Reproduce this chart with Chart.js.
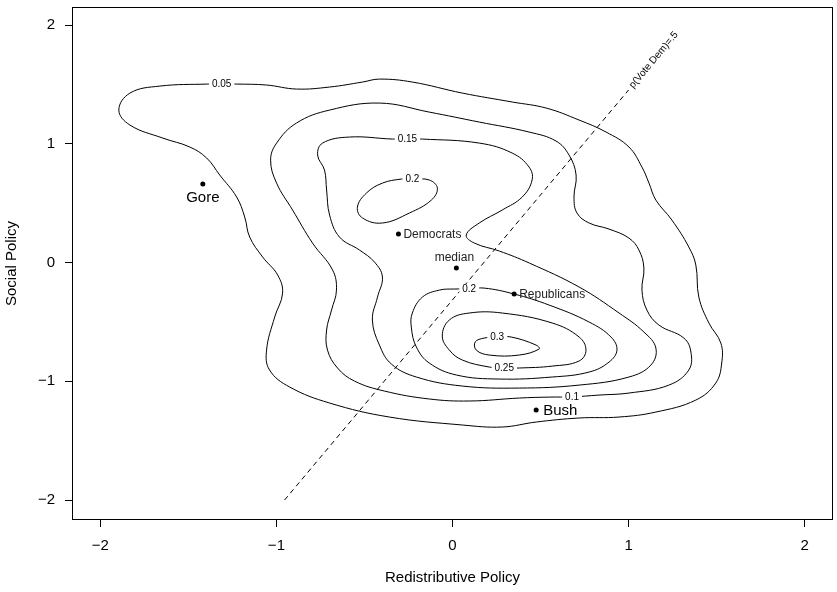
<!DOCTYPE html>
<html>
<head>
<meta charset="utf-8">
<script src="https://cdn.jsdelivr.net/npm/chart.js@4.4.1/dist/chart.umd.min.js"></script>
<style>
  html, body { margin: 0; padding: 0; background: #fff; }
</style>
</head>
<body>
<canvas id="chart" width="837" height="592"></canvas>
<script>
// tick values on both axes
const xTicks = [-2, -1, 0, 1, 2];
const yTicks = [-2, -1, 0, 1, 2];

// labelled positions
const pointNames = ['Gore', 'Democrats', 'median', 'Republicans', 'Bush'];
const pointX = [-1.418, -0.307, 0.022, 0.350, 0.475];
const pointY = [0.661, 0.240, -0.046, -0.265, -1.242];

// p(Vote Dem) = .5 line, end points
const voteLineX = [-0.954, 1.0];
const voteLineY = [-2.0, 1.453];

// density contours, first point is where the level label sits
const contourLevels = ['0.05', '0.1', '0.15', '0.2', '0.2', '0.25', '0.3'];

const contour005 = [
  [-1.311, 1.503], [-1.226, 1.503], [-1.056, 1.495], [-0.886, 1.461], [-0.698, 1.478],
  [-0.511, 1.520], [-0.415, 1.545], [-0.228, 1.520], [0.056, 1.427], [0.339, 1.352],
  [0.532, 1.301], [0.719, 1.200], [0.872, 1.099], [1.002, 0.973], [1.076, 0.804],
  [1.116, 0.669], [1.155, 0.526], [1.246, 0.358], [1.342, 0.131], [1.382, -0.021],
  [1.399, -0.291], [1.456, -0.509], [1.524, -0.678], [1.529, -0.846], [1.495, -1.015],
  [1.382, -1.158], [1.155, -1.259], [0.946, -1.301], [0.719, -1.309], [0.475, -1.343],
  [0.282, -1.385], [0.056, -1.368], [-0.358, -1.301], [-0.698, -1.183], [-0.925, -1.048],
  [-1.039, -0.905], [-1.056, -0.737], [-1.010, -0.459], [-0.965, -0.257], [-0.993, -0.105],
  [-1.078, 0.046], [-1.152, 0.215], [-1.180, 0.383], [-1.226, 0.552], [-1.322, 0.737],
  [-1.396, 0.880], [-1.492, 0.973], [-1.645, 1.048], [-1.832, 1.158], [-1.895, 1.284],
  [-1.832, 1.427], [-1.662, 1.486], [-1.390, 1.503], [-1.311, 1.503]
];

const contour010 = [
  [0.679, -1.133], [0.832, -1.116], [1.002, -1.099], [1.229, -1.032], [1.342, -0.905],
  [1.354, -0.754], [1.314, -0.636], [1.172, -0.526], [1.104, -0.400], [1.076, -0.232],
  [1.087, -0.046], [1.059, 0.105], [1.002, 0.206], [0.889, 0.282], [0.776, 0.333],
  [0.707, 0.417], [0.690, 0.552], [0.702, 0.737], [0.662, 0.905], [0.588, 1.023],
  [0.435, 1.099], [0.152, 1.183], [-0.132, 1.267], [-0.415, 1.343], [-0.698, 1.284],
  [-0.886, 1.175], [-0.999, 1.006], [-1.033, 0.863], [-0.999, 0.669], [-0.908, 0.442],
  [-0.795, 0.164], [-0.681, -0.063], [-0.659, -0.232], [-0.687, -0.400], [-0.715, -0.568],
  [-0.710, -0.737], [-0.653, -0.888], [-0.557, -0.998], [-0.387, -1.082], [-0.132, -1.149],
  [0.095, -1.166], [0.379, -1.141], [0.549, -1.133], [0.679, -1.133]
];

const contour015 = [
  [-0.256, 1.040], [-0.171, 1.040], [0.152, 1.006], [0.339, 0.922], [0.435, 0.804],
  [0.452, 0.695], [0.396, 0.552], [0.282, 0.442], [0.152, 0.333], [0.078, 0.232],
  [0.124, 0.164], [0.266, 0.097], [0.436, -0.004], [0.719, -0.206], [0.946, -0.425],
  [1.087, -0.585], [1.155, -0.720], [1.127, -0.863], [1.002, -0.964], [0.719, -1.032],
  [0.379, -1.057], [0.056, -1.040], [-0.205, -0.964], [-0.347, -0.855], [-0.415, -0.695],
  [-0.455, -0.484], [-0.426, -0.291], [-0.398, -0.122], [-0.443, 0.004], [-0.528, 0.105],
  [-0.642, 0.215], [-0.698, 0.400], [-0.715, 0.611], [-0.727, 0.779], [-0.766, 0.905],
  [-0.738, 1.006], [-0.585, 1.057], [-0.341, 1.040], [-0.256, 1.040]
];

const contour020a = [
  [-0.228, 0.703], [-0.132, 0.695], [-0.086, 0.627], [-0.120, 0.526], [-0.245, 0.417],
  [-0.398, 0.333], [-0.511, 0.375], [-0.540, 0.467], [-0.489, 0.585], [-0.398, 0.669],
  [-0.290, 0.703], [-0.228, 0.703]
];

const contour020b = [
  [0.095, -0.223], [0.180, -0.215], [0.350, -0.265], [0.549, -0.358], [0.776, -0.501],
  [0.900, -0.627], [0.934, -0.737], [0.889, -0.838], [0.776, -0.922], [0.566, -0.964],
  [0.265, -0.981], [0.022, -0.947], [-0.132, -0.846], [-0.205, -0.712], [-0.234, -0.543],
  [-0.228, -0.425], [-0.171, -0.291], [-0.075, -0.232], [0.010, -0.223], [0.095, -0.223]
];

const contour025 = [
  [0.294, -0.888], [0.379, -0.888], [0.566, -0.872], [0.719, -0.829], [0.758, -0.737],
  [0.719, -0.627], [0.566, -0.509], [0.282, -0.425], [0.095, -0.425], [-0.018, -0.484],
  [-0.058, -0.619], [-0.018, -0.737], [0.056, -0.821], [0.209, -0.880], [0.294, -0.888]
];

const contour030 = [
  [0.254, -0.627], [0.333, -0.627], [0.475, -0.695], [0.492, -0.728], [0.379, -0.779],
  [0.209, -0.779], [0.135, -0.737], [0.129, -0.669], [0.180, -0.636], [0.254, -0.627]
];

const contours = [contour005, contour010, contour015, contour020a, contour020b, contour025, contour030];

const FONT = '"Liberation Sans", Arial, sans-serif';

const contourSets = contours.map((c, i) => ({
  label: 'level ' + contourLevels[i],
  data: c.map(p => ({ x: p[0], y: p[1] })),
  showLine: true,
  pointRadius: 0,
  borderColor: '#000',
  borderWidth: 1,
  tension: 0.4,
  fill: false
}));

const voteSet = {
  label: 'p(Vote Dem)=.5',
  data: voteLineX.map((v, i) => ({ x: v, y: voteLineY[i] })),
  showLine: true,
  pointRadius: 0,
  borderColor: '#000',
  borderWidth: 1,
  borderDash: [5, 4]
};

const pointSet = {
  label: 'points',
  data: pointX.map((v, i) => ({ x: v, y: pointY[i] })),
  showLine: false,
  pointRadius: 2.5,
  backgroundColor: '#000',
  borderWidth: 0
};

// text that R puts on the plot: contour levels, point names, line label, box
const annotations = {
  id: 'annotations',
  afterDatasetsDraw(chart) {
    const { ctx, chartArea: a, scales: { x, y } } = chart;
    ctx.save();

    ctx.strokeStyle = '#000';
    ctx.lineWidth = 1;
    ctx.strokeRect(Math.round(a.left) + 0.5, Math.round(a.top) + 0.5,
      Math.round(a.right - a.left) - 1, Math.round(a.bottom - a.top) - 1);

    // contour labels over a white gap
    ctx.font = '10px ' + FONT;
    ctx.textAlign = 'center';
    ctx.textBaseline = 'middle';
    contours.forEach((c, i) => {
      const px = x.getPixelForValue(c[0][0]);
      const py = y.getPixelForValue(c[0][1]);
      const w = ctx.measureText(contourLevels[i]).width;
      ctx.fillStyle = '#fff';
      ctx.fillRect(px - w / 2 - 3, py - 5, w + 6, 10);
      ctx.fillStyle = '#000';
      ctx.fillText(contourLevels[i], px, py + 0.5);
    });

    // point names
    pointNames.forEach((name, i) => {
      const px = x.getPixelForValue(pointX[i]);
      const py = y.getPixelForValue(pointY[i]);
      ctx.fillStyle = '#000';
      if (name === 'Gore') {
        ctx.font = '15px ' + FONT;
        ctx.textAlign = 'center';
        ctx.fillText(name, px, py + 14);
      } else if (name === 'median') {
        ctx.font = '12px ' + FONT;
        ctx.textAlign = 'center';
        ctx.fillStyle = '#222';
        ctx.fillText(name, px - 2, py - 10);
      } else if (name === 'Bush') {
        ctx.font = '15px ' + FONT;
        ctx.textAlign = 'left';
        ctx.fillText(name, px + 7, py + 1);
      } else {
        ctx.font = '12px ' + FONT;
        ctx.textAlign = 'left';
        ctx.fillStyle = '#222';
        ctx.fillText(name, px + 5, py + 1);
      }
    });

    // rotated label at the top end of the dashed line
    const x0 = x.getPixelForValue(voteLineX[0]), y0 = y.getPixelForValue(voteLineY[0]);
    const x1 = x.getPixelForValue(voteLineX[1]), y1 = y.getPixelForValue(voteLineY[1]);
    const ang = Math.atan2(y1 - y0, x1 - x0);
    ctx.translate(x1 + Math.cos(ang) * 4, y1 + Math.sin(ang) * 4);
    ctx.rotate(ang);
    ctx.font = '10px ' + FONT;
    ctx.textAlign = 'left';
    ctx.fillStyle = '#000';
    ctx.fillText('p(Vote Dem)=.5', 0, 0);

    ctx.restore();
  }
};

const minusTick = v => String(v).replace('-', '\u2212');

new Chart(document.getElementById('chart'), {
  type: 'scatter',
  data: { datasets: [...contourSets, voteSet, pointSet] },
  options: {
    responsive: false,
    animation: false,
    devicePixelRatio: 1,
    layout: { padding: { top: 7, right: 3, left: 0, bottom: 0 } },
    plugins: {
      legend: { display: false },
      tooltip: { enabled: false }
    },
    scales: {
      x: {
        type: 'linear',
        min: -2.161,
        max: 2.161,
        afterBuildTicks: s => { s.ticks = xTicks.map(v => ({ value: v })); },
        afterFit: s => { s.height = 72; s.paddingLeft = 0; s.paddingRight = 0; },
        border: { display: false },
        grid: { drawOnChartArea: false, drawTicks: true, tickLength: 7, color: '#000' },
        ticks: { color: '#000', padding: 10, maxRotation: 0, font: { family: FONT, size: 15 }, callback: minusTick },
        title: { display: true, text: 'Redistributive Policy', color: '#000', padding: { top: 0, bottom: 5 }, font: { family: FONT, size: 15 } }
      },
      y: {
        type: 'linear',
        min: -2.168,
        max: 2.152,
        afterBuildTicks: s => { s.ticks = yTicks.map(v => ({ value: v })); },
        afterFit: s => { s.width = 72; s.paddingTop = 0; s.paddingBottom = 0; },
        border: { display: false },
        grid: { drawOnChartArea: false, drawTicks: true, tickLength: 7, color: '#000' },
        ticks: { color: '#000', padding: 10, font: { family: FONT, size: 15 }, callback: minusTick },
        title: { display: true, text: 'Social Policy', color: '#000', padding: { top: 3, bottom: 0 }, font: { family: FONT, size: 15 } }
      }
    }
  },
  plugins: [annotations]
});
</script>
</body>
</html>
